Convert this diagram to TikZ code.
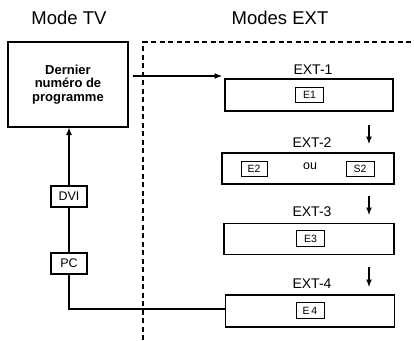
\documentclass[tikz,border=0pt]{standalone}
\usepackage{fontspec}
\setmainfont{Liberation Sans}
\usetikzlibrary{arrows.meta}
\begin{document}
\begin{tikzpicture}[x=1pt,y=-1pt,
  box/.style={draw, line width=1.1pt, inner sep=0pt},
  tiny/.style={draw, line width=1pt, inner sep=0pt, minimum width=28pt, minimum height=15.5pt, font=\fontsize{10.5}{11}\selectfont},
  side/.style={draw, line width=1.1pt, inner sep=0pt, minimum width=36pt, minimum height=21pt, font=\fontsize{12.5}{13}\selectfont},
  lbl/.style={font=\fontsize{14}{16}\selectfont, inner sep=0pt},
  head/.style={font=\fontsize{18.5}{20}\selectfont, inner sep=0pt},
  conn/.style={line width=1.1pt},
  arr/.style={line width=1.1pt, -{Latex[length=7.5pt,width=6pt]}},
  dashline/.style={line width=1.8pt, dash pattern=on 5pt off 3.5pt},
]
\useasboundingbox (0,0) rectangle (414,340);
% headings
\node[head] (modetv) at (69,18) {Mode TV};
\node[head] (modesext) at (280,18) {Modes EXT};
% TV box
\node[box, minimum width=120pt, minimum height=85pt, align=center,
  font=\fontsize{13}{13.5}\selectfont\bfseries] (dernier) at (68,84.5)
  {Dernier\\num\'ero de\\programme};
% dashed separator
\coordinate (dtop) at (143,42);
\coordinate (dbot) at (143,340);
\coordinate (dright) at (414,42);
\draw[dashline] (dbot) -- (dtop) -- (dright);
% EXT boxes and labels
\node[lbl] (ext1lbl) at (313,70) {EXT-1};
\node[box, minimum width=168pt, minimum height=32pt] (ext1) at (309,95) {};
\node[tiny] (e1) at (309.5,95) {E1};

\node[lbl] (ext2lbl) at (312,143) {EXT-2};
\node[box, minimum width=172pt, minimum height=31pt] (ext2) at (308,168.5) {};
\node[tiny, minimum width=26pt] (e2) at (254,169) {E2};
\node[inner sep=0pt, font=\fontsize{12.5}{13}\selectfont] (ou) at (310,166) {ou};
\node[tiny] (s2) at (360,169) {S2};

\node[lbl] (ext3lbl) at (312,212) {EXT-3};
\node[box, minimum width=170pt, minimum height=31pt] (ext3) at (309,239) {};
\node[tiny] (e3) at (310.5,238.5) {E3};

\node[lbl] (ext4lbl) at (312,284) {EXT-4};
\node[box, minimum width=169pt, minimum height=32pt] (ext4) at (310,311) {};
\node[tiny] (e4) at (310,310.5) {E\,4};

% down arrows
\coordinate (d1s) at (369,125); \coordinate (d1e) at (369,144);
\coordinate (d2s) at (369,196); \coordinate (d2e) at (369,215);
\coordinate (d3s) at (369,267); \coordinate (d3e) at (369,287);
\draw[arr] (d1s) -- (d1e);
\draw[arr] (d2s) -- (d2e);
\draw[arr] (d3s) -- (d3e);

% horizontal arrow
\coordinate (a1e) at (222,76);
\draw[arr, shorten <=4pt] (dernier.east |- a1e) -- (a1e);

% side boxes
\node[side] (dvi) at (69,196.5) {DVI};
\node[side] (pc) at (69,263.5) {PC};
\draw[arr] (dvi.north) -- (dvi.north |- dernier.south);
\draw[conn] (pc.north) -- (dvi.south);
\draw[conn] (pc.south) |- ([yshift=2pt]ext4.west);
\end{tikzpicture}
\end{document}
